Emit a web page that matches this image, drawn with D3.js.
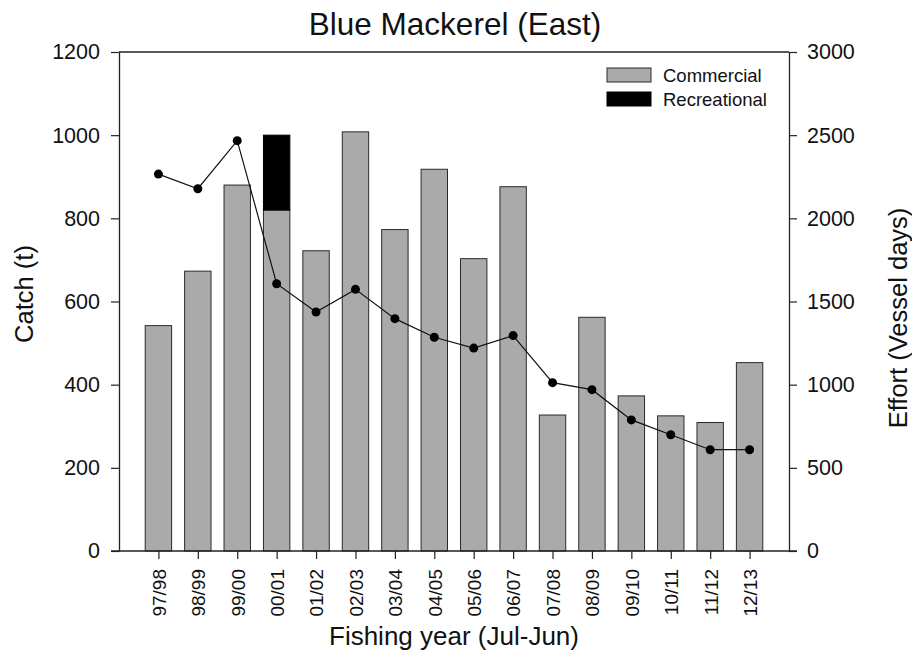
<!DOCTYPE html>
<html>
<head>
<meta charset="utf-8">
<script src="https://cdn.jsdelivr.net/npm/d3@7"></script>
<style>
  body { margin: 0; background: #fff; }
  svg { display: block; }
  text { font-family: "Liberation Sans", Arial, sans-serif; fill: #111; }
</style>
</head>
<body>
<svg id="chart" width="912" height="655"></svg>
<script>
const years = ["97/98","98/99","99/00","00/01","01/02","02/03","03/04","04/05","05/06","06/07","07/08","08/09","09/10","10/11","11/12","12/13"];
const commercial = [542, 673, 880, 820, 722, 1008, 773, 918, 703, 876, 327, 562, 373, 325, 309, 453];
const recreational = [0, 0, 0, 180, 0, 0, 0, 0, 0, 0, 0, 0, 0, 0, 0, 0];
const effort = [2266, 2178, 2467, 1607, 1437, 1573, 1397, 1285, 1220, 1295, 1012, 970, 788, 699, 609, 609];
const catchTicks = [0, 200, 400, 600, 800, 1000, 1200];
const effortTicks = [0, 500, 1000, 1500, 2000, 2500, 3000];

const svg = d3.select("#chart");
const L = 119, R = 789, T = 52, B = 551;

const x = d3.scalePoint().domain(years).range([L, R]).padding(1);
const yL = d3.scaleLinear().domain([0, 1200]).range([B, T]);
const yR = d3.scaleLinear().domain([0, 3000]).range([B, T]);
const barW = x.step() * 0.67;

// bars
const g = svg.append("g");
g.selectAll("rect.com").data(years).join("rect")
  .attr("x", d => x(d) - barW / 2)
  .attr("width", barW)
  .attr("y", (d, i) => yL(commercial[i]))
  .attr("height", (d, i) => yL(0) - yL(commercial[i]))
  .attr("fill", "#aaaaaa").attr("stroke", "#2a2a2a").attr("stroke-width", 1);
g.selectAll("rect.rec").data(years.filter((d, i) => recreational[i] > 0)).join("rect")
  .attr("x", d => x(d) - barW / 2)
  .attr("width", barW)
  .attr("y", d => { const i = years.indexOf(d); return yL(commercial[i] + recreational[i]); })
  .attr("height", d => { const i = years.indexOf(d); return yL(commercial[i]) - yL(commercial[i] + recreational[i]); })
  .attr("fill", "#000").attr("stroke", "#000");

// effort line
const line = d3.line().x((d, i) => x(years[i])).y(d => yR(d));
svg.append("path").datum(effort).attr("d", line)
  .attr("fill", "none").attr("stroke", "#111").attr("stroke-width", 1.2);
svg.selectAll("circle.pt").data(effort).join("circle")
  .attr("cx", (d, i) => x(years[i])).attr("cy", d => yR(d)).attr("r", 4.5)
  .attr("fill", "#000");

// frame top
svg.append("line").attr("x1", L).attr("x2", R).attr("y1", T).attr("y2", T)
  .attr("stroke", "#222").attr("stroke-width", 1.3);

const fsTick = 21.5;
const fmt = d3.format("d");
// left axis
const axL = svg.append("g").attr("transform", `translate(${L},0)`)
  .call(d3.axisLeft(yL).tickValues(catchTicks).tickFormat(fmt).tickSize(8).tickPadding(11).tickSizeOuter(0));
// right axis
const axR = svg.append("g").attr("transform", `translate(${R},0)`)
  .call(d3.axisRight(yR).tickValues(effortTicks).tickFormat(fmt).tickSize(8).tickPadding(10).tickSizeOuter(0));
// bottom axis
const axB = svg.append("g").attr("transform", `translate(0,${B})`)
  .call(d3.axisBottom(x).tickSize(8).tickSizeOuter(0));
axB.select(".domain").attr("d", `M${L - 8},0H${R + 8}`);

[axL, axR, axB].forEach(a => {
  a.selectAll(".domain").attr("stroke", "#222").attr("stroke-width", 1.3);
  a.selectAll(".tick line").attr("stroke", "#222").attr("stroke-width", 1.2);
  a.selectAll("text").attr("font-family", "Liberation Sans, Arial, sans-serif").attr("fill", "#111");
});
axL.selectAll("text").attr("font-size", fsTick);
axR.selectAll("text").attr("font-size", fsTick);
axB.selectAll("text").attr("font-size", 19)
  .attr("transform", "rotate(-90)")
  .attr("text-anchor", "end").attr("x", -18).attr("y", 0).attr("dy", "0.36em");

// titles
svg.append("text").attr("x", 455).attr("y", 35).attr("text-anchor", "middle")
  .attr("font-size", 31.5).text("Blue Mackerel (East)");
svg.append("text").attr("x", 454).attr("y", 645).attr("text-anchor", "middle")
  .attr("font-size", 26).text("Fishing year (Jul-Jun)");
svg.append("text").attr("transform", "translate(33,294) rotate(-90)").attr("text-anchor", "middle")
  .attr("font-size", 25.5).text("Catch (t)");
svg.append("text").attr("transform", "translate(907,318) rotate(-90)").attr("text-anchor", "middle")
  .attr("font-size", 25.5).text("Effort (Vessel days)");

// legend
const leg = [["Commercial", "#aaaaaa", "#2a2a2a"], ["Recreational", "#000", "#000"]];
const lg = svg.append("g");
lg.selectAll("rect").data(leg).join("rect")
  .attr("x", 607).attr("y", (d, i) => 68 + i * 24).attr("width", 44).attr("height", 14)
  .attr("fill", d => d[1]).attr("stroke", d => d[2]);
lg.selectAll("text").data(leg).join("text")
  .attr("x", 663).attr("y", (d, i) => 81.5 + i * 24).attr("font-size", 18.5).text(d => d[0]);
</script>
</body>
</html>
